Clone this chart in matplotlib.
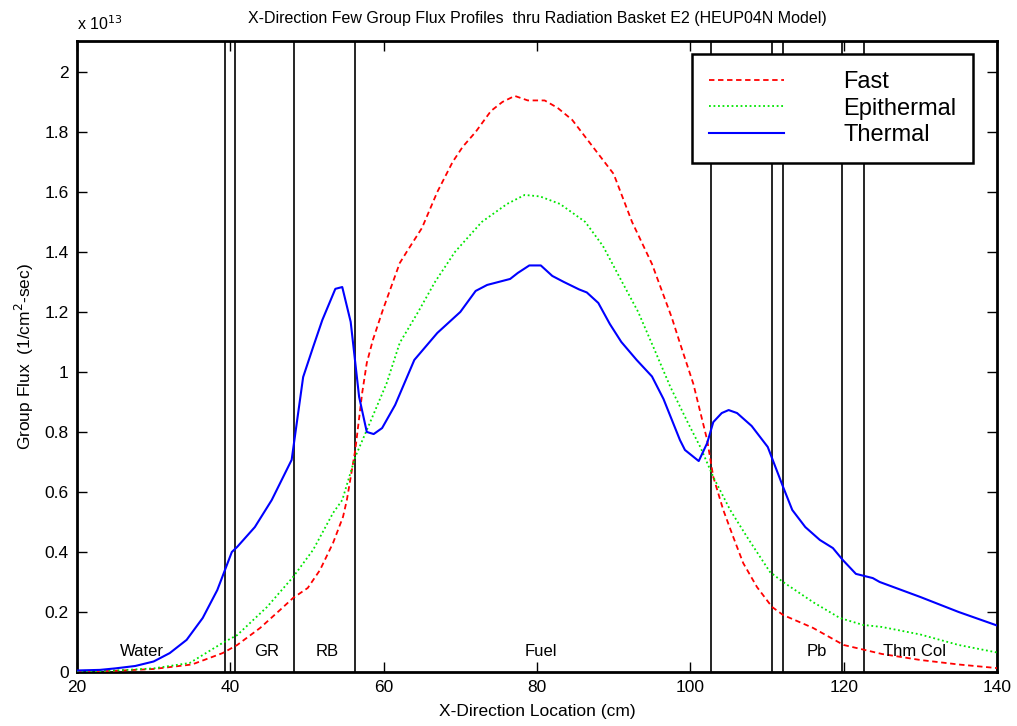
import matplotlib.pyplot as plt

plt.rcParams['font.family'] = ['Liberation Sans', 'DejaVu Sans']

# flux values in units of 1e13 (1/cm^2-sec)
fast_x = [20, 25, 30, 35, 39.0, 40.9, 43.9, 46.5, 48.2, 50.1, 51.7, 53.4, 54.7, 55.2, 56.3, 57.2,
          57.8, 58.6, 59.9, 62.1, 63, 65, 67, 69, 70.3, 72, 74, 75.5, 77.1, 78.8, 81, 82.7, 84.6,
          87, 90, 91.5, 92.4, 95, 97.6, 98.6, 100.4, 102.2, 103.0, 104.3, 105.6, 106.9, 108.7,
          110.65, 112.1, 116, 120, 125, 130, 135, 140]
fast_y = [0.0, 0.004, 0.01, 0.025, 0.063, 0.09, 0.147, 0.207, 0.247, 0.28, 0.34, 0.43, 0.517, 0.573,
          0.74, 0.93, 1.03, 1.107, 1.207, 1.363, 1.40, 1.48, 1.60, 1.70, 1.75, 1.80, 1.87, 1.90,
          1.92, 1.905, 1.905, 1.88, 1.84, 1.76, 1.66, 1.56, 1.50, 1.36, 1.18, 1.10, 0.96, 0.773,
          0.65, 0.54, 0.45, 0.363, 0.283, 0.217, 0.19, 0.147, 0.09, 0.06, 0.04, 0.025, 0.013]

epi_x = [20, 25, 30, 34.7, 39.0, 40.9, 44.8, 48.2, 50.8, 53.4, 54.6, 56.3, 58.2, 60.4, 62.1, 64.5,
         66.7, 69.3, 72.8, 76.1, 78.4, 80.4, 83, 86.3, 88.6, 91.1, 93.2, 95.4, 97.4, 99.7,
         101.3, 103, 105.2, 107.4, 110.4, 112.1, 116, 119.5, 122.5, 125, 130, 135, 140]
epi_y = [0.0, 0.005, 0.012, 0.03, 0.097, 0.123, 0.217, 0.317, 0.407, 0.53, 0.573, 0.717, 0.83,
         0.963, 1.097, 1.2, 1.3, 1.4, 1.5, 1.56, 1.59, 1.585, 1.56, 1.50, 1.42, 1.30, 1.2, 1.07,
         0.95, 0.83, 0.75, 0.65, 0.54, 0.45, 0.333, 0.30, 0.233, 0.18, 0.157, 0.15, 0.125,
         0.09, 0.065]

th_x = [20, 23, 25, 27.6, 30, 32.1, 34.3, 36.4, 38.3, 40.2, 40.9, 43.2, 45.4, 48.0, 49.5, 50.8,
        52.0, 53.7, 54.6, 55.7, 56.8, 57.8, 58.7, 59.8, 61.5, 64, 67, 70, 72, 73.5, 75, 76.5,
        77.5, 79, 80.5, 82, 83.5, 85.5, 86.5, 88, 89.5, 91, 93, 95, 96.5, 98.65, 99.3, 101.1,
        102.2, 103.0, 104.1, 105.0, 106.1, 108.0, 110.1, 112.1, 113.3, 115.0, 116.9, 118.6,
        119.9, 121.6, 123.8, 124.7, 130, 135, 140]
th_y = [0.005, 0.007, 0.012, 0.02, 0.035, 0.063, 0.107, 0.18, 0.273, 0.40, 0.417, 0.483, 0.573,
        0.707, 0.983, 1.083, 1.173, 1.277, 1.283, 1.167, 0.917, 0.80, 0.793, 0.813, 0.89, 1.04,
        1.13, 1.2, 1.27, 1.29, 1.30, 1.31, 1.33, 1.355, 1.355, 1.32, 1.30, 1.275, 1.265, 1.23,
        1.16, 1.10, 1.04, 0.985, 0.91, 0.773, 0.74, 0.703, 0.763, 0.833, 0.863, 0.873, 0.863,
        0.82, 0.75, 0.617, 0.54, 0.483, 0.44, 0.413, 0.373, 0.327, 0.313, 0.30, 0.25, 0.20, 0.155]

boundaries = [39.3, 40.6, 48.3, 56.3, 102.7, 110.65, 112.1, 119.8, 122.65]
regions = ['Water', 'GR', 'RB', 'Fuel', 'Pb', 'Thm Col']
region_x = [28.5, 44.8, 52.6, 80.5, 116.5, 129.3]

fig = plt.figure(figsize=(10.17, 7.26), dpi=100)
ax = fig.add_axes([0.0757, 0.0744, 0.9046, 0.8691])

for b in boundaries:
    ax.axvline(b, color='black', lw=1.2, zorder=1)

ax.plot(fast_x, fast_y, color='red', ls=(0, (3, 2)), lw=1.3, label='Fast', zorder=3)
ax.plot(epi_x, epi_y, color='#00e600', ls=(0, (1, 1.5)), lw=1.3, label='Epithermal', zorder=3)
ax.plot(th_x, th_y, color='blue', lw=1.5, label='Thermal', zorder=3)

for name, xr in zip(regions, region_x):
    ax.text(xr, 0.067, name, ha='center', va='center', fontsize=12)

ax.set_xlim(20, 140)
ax.set_ylim(0, 2.103)
ax.set_xticks([20, 40, 60, 80, 100, 120, 140])
ax.set_yticks([0, 0.2, 0.4, 0.6, 0.8, 1, 1.2, 1.4, 1.6, 1.8, 2])
ax.set_yticklabels(['0', '0.2', '0.4', '0.6', '0.8', '1', '1.2', '1.4', '1.6', '1.8', '2'])
ax.tick_params(direction='in', length=7, width=1, top=True, right=True, labelsize=12.5, pad=6)
for s in ax.spines.values():
    s.set_linewidth(2)

ax.set_xlabel('X-Direction Location (cm)', fontsize=12.5, labelpad=6)
ax.set_ylabel('Group Flux  (1/cm$^2$-sec)', fontsize=12.5, labelpad=6)
ax.set_title('X-Direction Few Group Flux Profiles  thru Radiation Basket E2 (HEUP04N Model)',
             fontsize=11.5, pad=13)
fig.text(0.076, 0.968, r'x 10$^{13}$', fontsize=11.5, ha='left', va='center')

leg = ax.legend(loc='upper right', bbox_to_anchor=(0.974, 0.979), fontsize=17,
                handlelength=3.2, handletextpad=2.5, labelspacing=0.2, borderpad=0.7,
                borderaxespad=0, fancybox=False, framealpha=1, edgecolor='black')
leg.get_frame().set_linewidth(1.8)

fig.savefig('out.png', dpi=100)
